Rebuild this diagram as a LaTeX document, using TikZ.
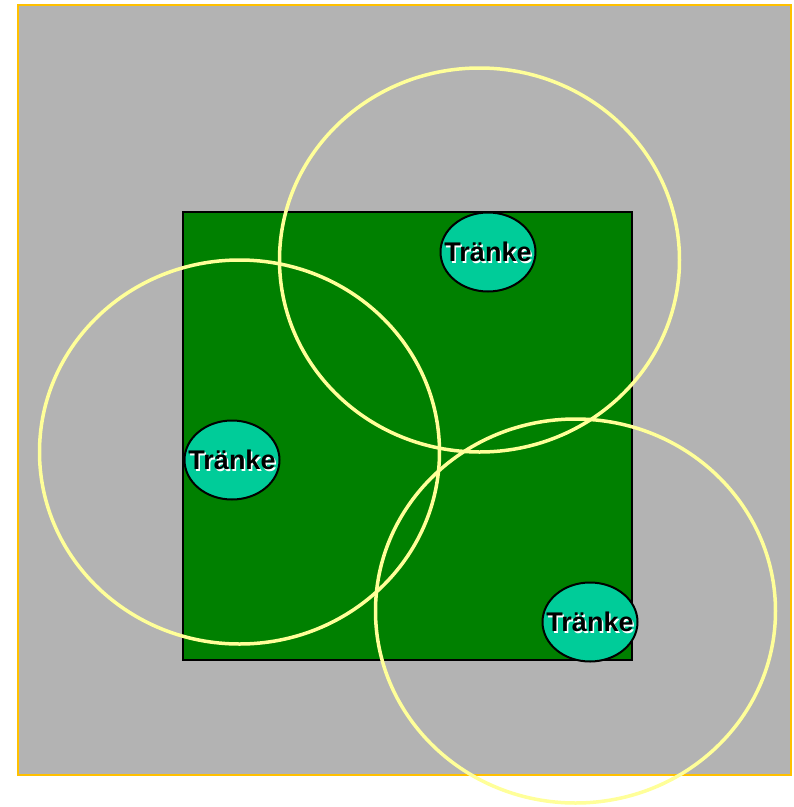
\documentclass[tikz,border=0pt]{standalone}
\usepackage{fontspec}
\setmainfont{Liberation Sans}
\usetikzlibrary{shapes.geometric}
\definecolor{bggray}{HTML}{B3B3B3}
\definecolor{frameorange}{HTML}{FFC000}
\definecolor{fieldgreen}{HTML}{008000}
\definecolor{troughfill}{HTML}{00CC99}
\definecolor{rangeyellow}{HTML}{FFFF99}
\tikzset{
  trough/.style={ellipse, draw=black, line width=2pt, fill=troughfill, minimum width=95pt, minimum height=79pt, inner sep=0pt},
  troughlabel/.style={font=\fontsize{27}{27}\selectfont\bfseries, text=black, inner sep=0pt},
  troughhalo/.style={font=\fontsize{27}{27}\selectfont\bfseries, text=white, inner sep=0pt},
  rangecircle/.style={draw=rangeyellow, line width=3.5pt},
}
\begin{document}
\begin{tikzpicture}[x=1pt,y=-1pt]
\useasboundingbox (0,0) rectangle (794,807);
\fill[white] (0,0) rectangle (794,807);
\draw[draw=frameorange, fill=bggray, line width=2.5pt] (18,5) rectangle (791,775);
\draw[fill=fieldgreen, draw=black, line width=2.2pt] (183,212) rectangle (632,660);
\node[trough] (t1) at (488,252) {};
\node[trough] (t2) at (232,460) {};
\node[trough] (t3) at (590,622) {};
\foreach \n in {t1,t2,t3}{
  \node[troughhalo] at ([xshift=1.5pt,yshift=-1.5pt]\n.center) {Tränke};
  \node[troughlabel] at (\n.center) {Tränke};
}
\draw[rangecircle] (479.5,260) ellipse [x radius=200, y radius=192];
\draw[rangecircle] (239.5,452) ellipse [x radius=200, y radius=192];
\draw[rangecircle] (575.5,611) ellipse [x radius=200, y radius=192];
\end{tikzpicture}
\end{document}
